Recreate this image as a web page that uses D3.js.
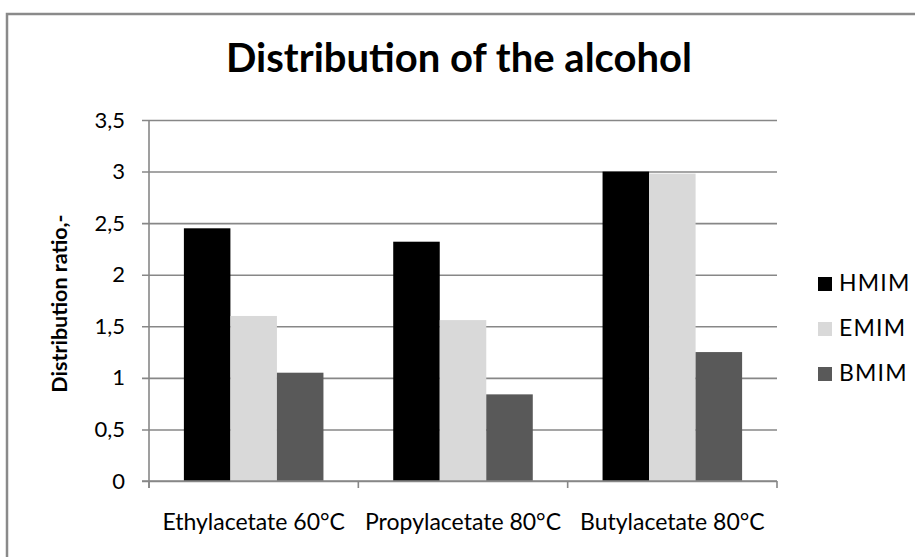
<!DOCTYPE html>
<html>
<head>
<meta charset="utf-8">
<script src="https://cdn.jsdelivr.net/npm/d3@7/dist/d3.min.js"></script>
<style>
  html, body { margin: 0; padding: 0; background: #fff; }
  svg { display: block; }
  text { font-family: Lato, "Open Sans", sans-serif; fill: #000; }
</style>
</head>
<body>
<svg id="chart" width="915" height="557"></svg>
<script>
const categories = ["Ethylacetate 60°C", "Propylacetate 80°C", "Butylacetate 80°C"];
const seriesNames = ["HMIM", "EMIM", "BMIM"];
const HMIM = [2.45, 2.32, 3.00];
const EMIM = [1.60, 1.56, 2.98];
const BMIM = [1.05, 0.84, 1.25];
const seriesColors = ["#000000", "#d9d9d9", "#595959"];
const yTickValues = [0, 0.5, 1, 1.5, 2, 2.5, 3, 3.5];
const yTickLabels = ["0", "0,5", "1", "1,5", "2", "2,5", "3", "3,5"];
const titleText = "Distribution of the alcohol";
const yAxisTitle = "Distribution ratio,-";

(function () {
const FONT = "Lato, 'Open Sans', sans-serif";
const seriesValues = [HMIM, EMIM, BMIM];
const rows = categories.map((c, i) => ({
  cat: c,
  vals: seriesNames.map((s, j) => ({ s, j, v: seriesValues[j][i] }))
}));

const svg = d3.select("#chart");
const gridColor = "#878787";

// outer frame
svg.append("rect")
  .attr("x", 7).attr("y", 14)
  .attr("width", 1000).attr("height", 1000)
  .attr("fill", "none").attr("stroke", "#8a8a8a").attr("stroke-width", 2.5);

const pLeft = 149, pRight = 777, pTop = 120, pBottom = 481;

const x = d3.scaleBand().domain(categories).range([pLeft, pRight]).paddingInner(0).paddingOuter(0);
const xs = d3.scaleBand().domain(seriesNames).range([0, x.bandwidth()]).paddingInner(0).paddingOuter(0.75);
const y = d3.scaleLinear().domain([0, 3.5]).range([pBottom, pTop]);

// gridlines + y labels
const yAxis = d3.axisLeft(y)
  .tickValues(yTickValues)
  .tickFormat((d, i) => yTickLabels[i])
  .tickSize(-(pRight - (pLeft - 7)))
  .tickPadding(17);
const gy = svg.append("g").attr("transform", `translate(${pLeft - 7},0)`).call(yAxis);
gy.select(".domain").remove();
gy.selectAll(".tick line").attr("stroke", gridColor).attr("stroke-width", 1.6);
gy.selectAll(".tick text").attr("font-size", 22).attr("fill", "#000").attr("font-family", FONT);

// bars
const g = svg.append("g");
g.selectAll("g.grp").data(rows).join("g")
  .attr("class", "grp")
  .attr("transform", d => `translate(${x(d.cat)},0)`)
  .selectAll("rect").data(d => d.vals).join("rect")
  .attr("x", d => xs(d.s))
  .attr("width", xs.bandwidth())
  .attr("y", d => y(d.v))
  .attr("height", d => y(0) - y(d.v))
  .attr("fill", d => seriesColors[d.j]);

// y axis line
svg.append("line")
  .attr("x1", pLeft).attr("x2", pLeft)
  .attr("y1", pTop).attr("y2", pBottom + 7)
  .attr("stroke", gridColor).attr("stroke-width", 1.6);

// x axis baseline
svg.append("line")
  .attr("x1", pLeft - 7).attr("x2", pRight)
  .attr("y1", pBottom).attr("y2", pBottom)
  .attr("stroke", gridColor).attr("stroke-width", 1.6);

// category boundary ticks
const bounds = categories.map(c => x(c)).concat([x.range()[1]]);
svg.selectAll("line.xt").data(bounds).join("line")
  .attr("class", "xt")
  .attr("x1", d => d).attr("x2", d => d)
  .attr("y1", pBottom).attr("y2", pBottom + 7)
  .attr("stroke", gridColor).attr("stroke-width", 1.6);

// x labels
const xAxis = d3.axisBottom(x).tickSize(0).tickPadding(49);
const gx = svg.append("g").attr("transform", `translate(0,${pBottom})`).call(xAxis);
gx.select(".domain").remove();
gx.selectAll(".tick text").attr("dy", 0).attr("font-size", 23).attr("fill", "#000").attr("font-family", FONT);

// title
svg.append("text")
  .attr("x", 459).attr("y", 72)
  .attr("text-anchor", "middle")
  .attr("font-size", 40).attr("font-weight", "bold")
  .text(titleText);

// y axis title
svg.append("text")
  .attr("transform", `translate(67,${(pTop + pBottom) / 2 + 3}) rotate(-90)`)
  .attr("text-anchor", "middle")
  .attr("font-size", 21.5).attr("font-weight", "bold")
  .text(yAxisTitle);

// legend
const legend = svg.append("g").attr("transform", "translate(818,277)");
const li = legend.selectAll("g").data(seriesNames).join("g")
  .attr("transform", (d, i) => `translate(0,${i * 45})`);
li.append("rect").attr("width", 14).attr("height", 14).attr("fill", (d, i) => seriesColors[i]);
li.append("text").attr("x", 21).attr("y", 14).attr("font-size", 23).attr("letter-spacing", 1.2).text(d => d);
})();
</script>
</body>
</html>
